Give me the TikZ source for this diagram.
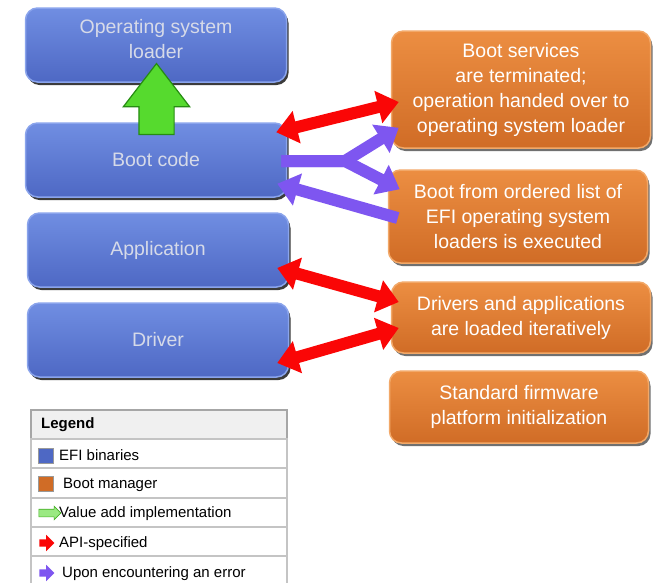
\documentclass[tikz,border=0pt]{standalone}
\usepackage{fontspec}
\setmainfont{Liberation Sans}
\usetikzlibrary{positioning, shapes.arrows, shadows, arrows.meta}

\definecolor{efitop}{RGB}{112,142,226}
\definecolor{efibot}{RGB}{78,104,196}
\definecolor{efiedge}{RGB}{138,164,236}
\definecolor{efitext}{RGB}{214,218,232}
\definecolor{mgrtop}{RGB}{236,142,66}
\definecolor{mgrbot}{RGB}{208,108,38}
\definecolor{mgredge}{RGB}{242,168,104}
\definecolor{apired}{RGB}{250,6,6}
\definecolor{errpurple}{RGB}{126,86,240}
\definecolor{vagreen}{RGB}{86,218,46}
\definecolor{vaedge}{RGB}{38,140,18}
\definecolor{lgdline}{RGB}{196,196,196}

\begin{document}
\begin{tikzpicture}[x=1pt, y=-1pt, inner sep=3pt,
	efi/.style={draw=efiedge, line width=1.5pt, rounded corners=12pt, top color=efitop, bottom color=efibot,
		minimum width=261pt, minimum height=74pt, text=efitext, align=center,
		font=\fontsize{19.5}{25}\selectfont,
		drop shadow={shadow xshift=2pt, shadow yshift=-3pt, fill=black!85, opacity=.9}},
	mgr/.style={draw=mgredge, line width=1.5pt, rounded corners=12pt, top color=mgrtop, bottom color=mgrbot,
		minimum width=259pt, text=white, align=center,
		font=\fontsize{19.5}{25}\selectfont,
		drop shadow={shadow xshift=2pt, shadow yshift=-3pt, fill=black!70, opacity=.8}},
	api/.style={draw=apired, line width=12pt, {Triangle[width=32pt,length=21pt]}-{Triangle[width=32pt,length=21pt]}},
	err/.style={draw=errpurple, line width=12pt, -{Triangle[width=32pt,length=21pt]}},
	valueadd/.style={single arrow, draw=vaedge, fill=vagreen, line width=1.2pt, inner xsep=0pt,
		single arrow tip angle=75},
	lgdrow/.style={draw=lgdline, line width=1.5pt, fill=white, minimum width=256pt, inner sep=0pt},
	lgdtext/.style={anchor=west, inner sep=0pt, font=\fontsize{15}{18}\selectfont},
	lgdbox/.style={draw=black!40, line width=.4pt, minimum size=15pt, inner sep=0pt},
	lgdarrow/.style={single arrow, inner xsep=0pt, inner ysep=3.5pt, minimum height=15pt, single arrow head extend=4.5pt}]

	\useasboundingbox (0,0) rectangle (654,582);

	% EFI binaries
	\node[efi, text depth=12pt] (E1) at (156,45) {Operating system\\loader};
	\node[efi] (E2) at (156,160) {Boot code};
	\node[efi] (E3) at (158,250) {Application};
	\node[efi] (E4) at (158,340) {Driver};

	% boot manager
	\node[mgr, minimum height=117pt] (M1) at (521,89.5) {Boot services\\are terminated;\\operation handed over to\\operating system loader};
	\node[mgr, minimum height=93pt] (M2) at (518,216.5) {Boot from ordered list of\\EFI operating system\\loaders is executed};
	\node[mgr, minimum height=71pt] (M3) at (521,317.5) {Drivers and applications\\are loaded iteratively};
	\node[mgr, minimum height=72pt] (M4) at (519,407) {Standard firmware\\platform initialization};

	\node[valueadd, inner ysep=17pt, minimum height=71pt, single arrow head extend=15.5pt, rotate=90] (V) at (156.5,110.5) {};

	\coordinate (Y) at (345,161);

	\draw[api] ([shift={(-11,10)}]E2.north east) -- ([shift={(8,12.5)}]M1.west);
	\draw[api] ([shift={(-12,18)}]E3.east) -- ([shift={(8,-15.5)}]M3.west);
	\draw[api] ([shift={(8,10.5)}]M3.west) -- ([shift={(-12,23)}]E4.east);

	\draw[err] ([shift={(-6,1)}]E2.east) -- (Y) -- ([shift={(8,-21)}]M1.south west);
	\draw[err] ([shift={(-6,1)}]E2.east) -- (Y) -- ([shift={(12,20)}]M2.north west);
	\draw[err] ([shift={(10,1.5)}]M2.west) -- ([shift={(-10,-14)}]E2.south east);

	% legend
	\node[lgdrow, fill=black!6, draw=black!35, minimum height=29pt] (L0) at (159,424.5) {};
	\node[lgdrow, minimum height=29pt] (L1) at (159,453.5) {};
	\node[lgdrow, minimum height=29pt] (L2) at (159,483) {};
	\node[lgdrow, minimum height=29pt] (L3) at (159,512.5) {};
	\node[lgdrow, minimum height=29pt] (L4) at (159,541.5) {};
	\node[lgdrow, minimum height=44pt] (L5) at (159,578) {};

	\node[lgdtext, font=\fontsize{15}{18}\selectfont\bfseries] (T0) at (41,424.5) {Legend};
	\node[lgdbox, fill=efibot] (K1) at (45.5,455.5) {};
	\node[lgdtext] (T1) at (59,455) {EFI binaries};
	\node[lgdbox, fill=mgrbot] (K2) at (45.5,484) {};
	\node[lgdtext] (T2) at (63,484.5) {Boot manager};
	\node[lgdarrow, draw=vagreen!80!black, fill=vagreen!60, line width=.6pt, minimum height=22pt, single arrow head extend=3pt] (K3) at (48,513) {};
	\node[lgdtext] (T3) at (59,513.5) {Value add implementation};
	\node[lgdarrow, fill=apired] (K4) at (45,543) {};
	\node[lgdtext] (T4) at (59,543.5) {API-specified};
	\node[lgdarrow, fill=errpurple] (K5) at (45,573) {};
	\node[lgdtext] (T5) at (62,573.5) {Upon encountering an error};
\end{tikzpicture}
\end{document}
